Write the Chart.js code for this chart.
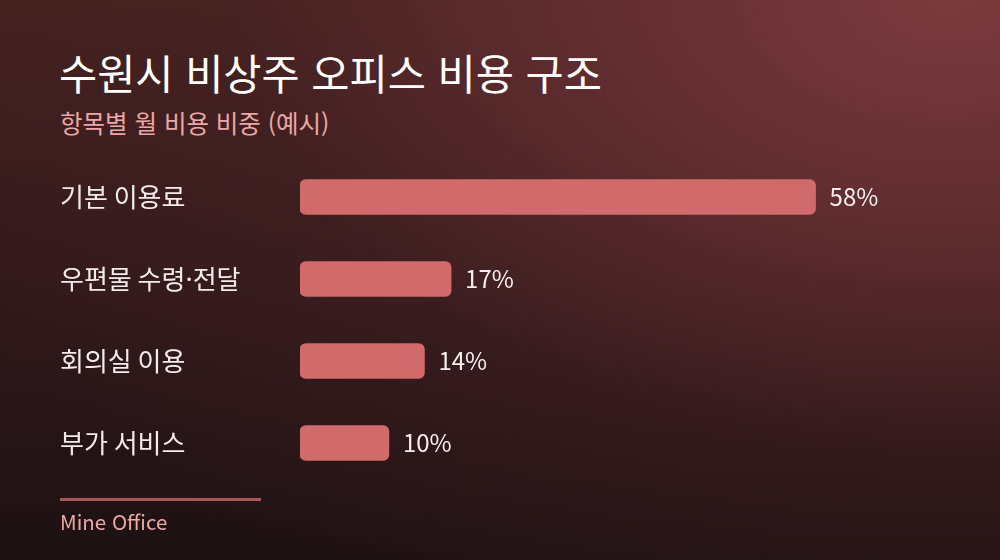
<!DOCTYPE html>
<html lang="ko">
<head>
<meta charset="utf-8">
<script src="https://cdn.jsdelivr.net/npm/chart.js@4.4.1/dist/chart.umd.min.js"></script>
<style>
  html, body { margin: 0; padding: 0; }
  body {
    width: 1000px; height: 560px; overflow: hidden; position: relative;
    font-family: "Noto Sans CJK KR", "Noto Sans", sans-serif;
    background:
      radial-gradient(ellipse 110% 125% at 95% 0%, rgba(122,58,62,1) 0%, rgba(108,50,54,0.8) 30%, rgba(75,36,38,0.35) 65%, rgba(40,20,22,0) 100%),
      linear-gradient(to bottom, #44211f 0%, #2f181a 55%, #1d1112 100%);
  }
  #title { position: absolute; left: 59px; top: 45px; margin: 0; font-size: 41.5px; font-weight: 400; color: #ffffff; line-height: 54px; letter-spacing: 0; }
  #subtitle { position: absolute; left: 60px; top: 106px; margin: 0; font-size: 24.5px; font-weight: 400; color: #eba8a7; line-height: 34px; }
  #rule { position: absolute; left: 60px; top: 498px; width: 201px; height: 3px; background: #a9555a; }
  #footer { position: absolute; left: 60px; top: 506px; font-size: 20.5px; color: #eba8a7; line-height: 30px; }
  #wrap { position: absolute; left: 0; top: 0; width: 1000px; height: 560px; }
</style>
</head>
<body>
<h1 id="title">수원시 비상주 오피스 비용 구조</h1>
<div id="subtitle">항목별 월 비용 비중 (예시)</div>
<div id="wrap"><canvas id="c" width="1000" height="560"></canvas></div>
<div id="rule"></div>
<div id="footer">Mine Office</div>
<script>
const categories = ["기본 이용료", "우편물 수령·전달", "회의실 이용", "부가 서비스"];
const shares = [58, 17, 14, 10];
const valueLabels = shares.map(v => v + "%");

const FONT = '"Noto Sans CJK KR", "Noto Sans", sans-serif';

const valueLabelPlugin = {
  id: 'valueLabels',
  afterDatasetsDraw(chart) {
    const ctx = chart.ctx;
    const meta = chart.getDatasetMeta(0);
    ctx.save();
    ctx.font = '400 24px ' + FONT;
    ctx.fillStyle = '#f6eeee';
    ctx.textAlign = 'left';
    ctx.textBaseline = 'middle';
    meta.data.forEach((bar, i) => {
      ctx.fillText(valueLabels[i], bar.x + 14, bar.y);
    });
    ctx.restore();
  }
};

new Chart(document.getElementById('c'), {
  type: 'bar',
  data: {
    labels: categories,
    datasets: [{
      data: shares,
      backgroundColor: '#d16a6b',
      borderWidth: 0,
      borderRadius: 6,
      borderSkipped: false,
      barThickness: 35
    }]
  },
  options: {
    indexAxis: 'y',
    responsive: false,
    animation: false,
    devicePixelRatio: 1,
    layout: { padding: { left: 60, right: 60, top: 156, bottom: 76 } },
    plugins: { legend: { display: false }, tooltip: { enabled: false } },
    scales: {
      x: { display: false, min: 0, max: 72 },
      y: {
        grid: { display: false },
        border: { display: false },
        ticks: {
          color: '#f3eaea',
          font: { family: FONT, size: 26, weight: 400 },
          crossAlign: 'far',
          padding: 0
        },
        afterFit(scale) { scale.width = 240; }
      }
    }
  },
  plugins: [valueLabelPlugin]
});
</script>
</body>
</html>
